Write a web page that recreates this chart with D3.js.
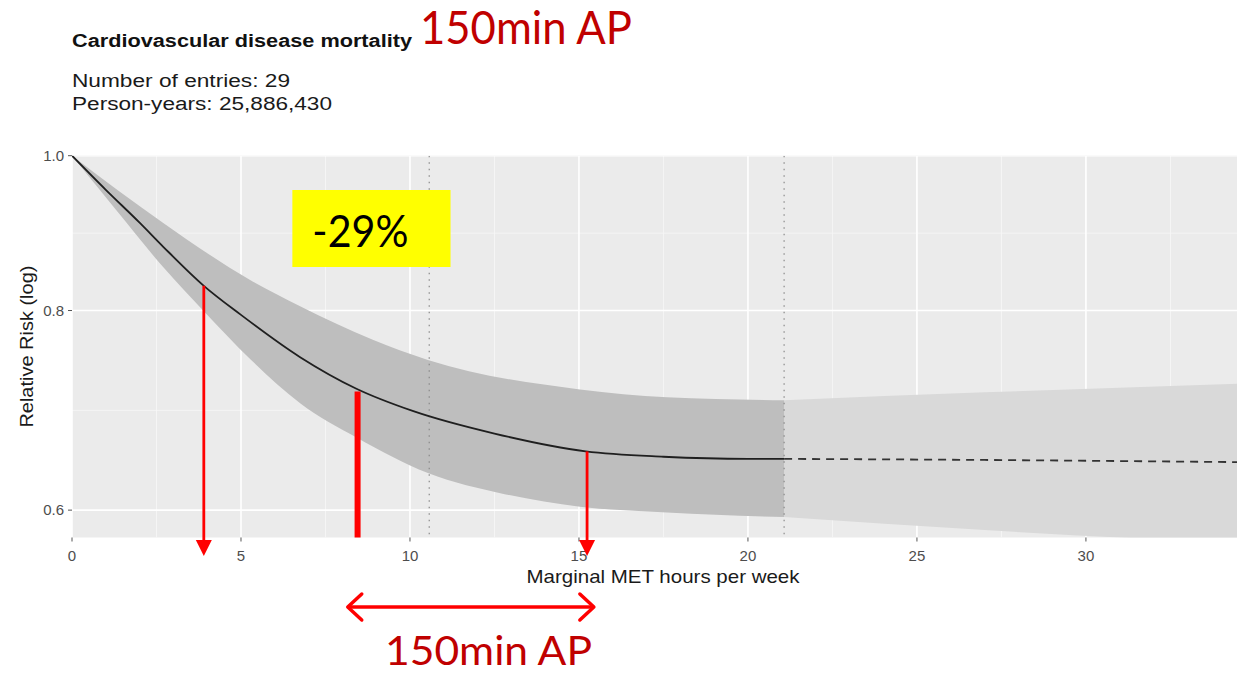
<!DOCTYPE html>
<html>
<head>
<meta charset="utf-8">
<script src="https://cdn.jsdelivr.net/npm/d3@7"></script>
<style>
  body { margin: 0; background: #fff; }
  svg { display: block; }
</style>
</head>
<body>
<svg id="chart" width="1237" height="676"></svg>
<script>
// Dose-response curve: relative risk vs marginal MET hours per week
const metHours = [0, 1, 2, 2.7, 3.9, 5, 6.75, 8.4, 10.1, 12.5, 15.2, 17.5, 20, 21.07];
const relRisk  = [1.0, 0.952, 0.908, 0.877, 0.829, 0.795, 0.748, 0.715, 0.692, 0.670, 0.653, 0.648, 0.646, 0.646];

// 95% confidence band within the data-supported range
const upperHours = [0, 2.69, 5.27, 6.75, 8.9, 10.53, 15.03, 17.6, 21.07];
const upperRisk  = [1.0, 0.908, 0.836, 0.805, 0.767, 0.745, 0.714, 0.706, 0.703];
const lowerHours = [0, 1.3, 2.69, 3.88, 5.3, 6.75, 8.43, 10.53, 12.8, 15.03, 17.6, 21.07];
const lowerRisk  = [1.0, 0.925, 0.852, 0.800, 0.745, 0.700, 0.666, 0.633, 0.614, 0.603, 0.598, 0.594];

// Extrapolated part beyond the last reference point
const extHours = [21.07, 27, 34.5];
const extRisk  = [0.646, 0.645, 0.643];
const extUpper = [0.703, 0.711, 0.720];
const extLower = [0.594, 0.583, 0.572];

// Reference lines (dotted verticals)
const refHours = [10.57, 21.07];

// Axis ticks
const xTicks = [0, 5, 10, 15, 20, 25, 30];
const yTicks = [0.6, 0.8, 1.0];
const yTickLabels = ["0.6", "0.8", "1.0"];

// Annotations: arrows dropped from the curve, and the 150-min range
const arrowHours = [3.9, 15.24];
const arrowRisk  = [0.829, 0.653];
const barHours = 8.45;
const barRisk  = 0.712;
const rangeHours = [8.1, 15.5];

const svg = d3.select("#chart");
const W = 1237;

const x = d3.scaleLinear().domain([0, 34.47]).range([72, 1237]);
const y = d3.scaleLog().domain([1.0, 0.5768]).range([155.7, 537.5]);

const panel = { x0: 72, x1: W, y0: 155.7, y1: 537.5 };

svg.append("defs").append("clipPath").attr("id", "panelClip")
  .append("rect").attr("x", panel.x0).attr("y", panel.y0)
  .attr("width", panel.x1 - panel.x0).attr("height", panel.y1 - panel.y0);

// Panel background
svg.append("rect")
  .attr("x", panel.x0).attr("y", panel.y0)
  .attr("width", panel.x1 - panel.x0).attr("height", panel.y1 - panel.y0)
  .attr("fill", "#ebebeb");

const grid = svg.append("g").attr("clip-path", "url(#panelClip)");

// minor gridlines
const xMinor = d3.range(2.5, 35, 5);
grid.selectAll(".xminor").data(xMinor).join("line")
  .attr("x1", d => x(d)).attr("x2", d => x(d))
  .attr("y1", panel.y0).attr("y2", panel.y1)
  .attr("stroke", "#f7f7f7").attr("stroke-width", 0.8);
const yMinor = [Math.sqrt(0.8 * 1.0), Math.sqrt(0.6 * 0.8)];
grid.selectAll(".yminor").data(yMinor).join("line")
  .attr("x1", panel.x0).attr("x2", panel.x1)
  .attr("y1", d => y(d)).attr("y2", d => y(d))
  .attr("stroke", "#f7f7f7").attr("stroke-width", 0.8);
// major gridlines
grid.selectAll(".xmajor").data(xTicks).join("line")
  .attr("x1", d => x(d)).attr("x2", d => x(d))
  .attr("y1", panel.y0).attr("y2", panel.y1)
  .attr("stroke", "#fff").attr("stroke-width", 1.6);
grid.selectAll(".ymajor").data(yTicks).join("line")
  .attr("x1", panel.x0).attr("x2", panel.x1)
  .attr("y1", d => y(d)).attr("y2", d => y(d))
  .attr("stroke", "#fff").attr("stroke-width", 1.6);

const plot = svg.append("g").attr("clip-path", "url(#panelClip)");

// Band path built from separate upper and lower edges
function bandPath(ux, uy, lx, ly) {
  const ln = d3.line().x(d => x(d[0])).y(d => y(d[1])).curve(d3.curveMonotoneX);
  const up = ln(ux.map((v, i) => [v, uy[i]]));
  const lo = ln(lx.map((v, i) => [v, ly[i]]).reverse());
  return up + "L" + lo.slice(1) + "Z";
}

plot.append("path")
  .attr("d", bandPath(extHours, extUpper, extHours, extLower))
  .attr("fill", "#d9d9d9");
plot.append("path")
  .attr("d", bandPath(upperHours, upperRisk, lowerHours, lowerRisk))
  .attr("fill", "#bebebe");

// Dotted reference lines
plot.selectAll(".ref").data(refHours).join("line")
  .attr("x1", d => x(d)).attr("x2", d => x(d))
  .attr("y1", panel.y0).attr("y2", panel.y1)
  .attr("stroke", "#8a8a8a").attr("stroke-width", 1.2)
  .attr("stroke-dasharray", "1.5,5");

// Curve
const curve = d3.line().x(d => x(d[0])).y(d => y(d[1])).curve(d3.curveMonotoneX);
plot.append("path")
  .attr("d", curve(metHours.map((v, i) => [v, relRisk[i]])))
  .attr("fill", "none").attr("stroke", "#1f1f1f").attr("stroke-width", 1.8);
plot.append("path")
  .attr("d", curve(extHours.map((v, i) => [v, extRisk[i]])))
  .attr("fill", "none").attr("stroke", "#333").attr("stroke-width", 1.8)
  .attr("stroke-dasharray", "8,6");

// Axes
const tickColor = "#4d4d4d";
const xAxis = svg.append("g");
xAxis.selectAll("line").data(xTicks).join("line")
  .attr("x1", d => x(d)).attr("x2", d => x(d))
  .attr("y1", panel.y1).attr("y2", panel.y1 + 4)
  .attr("stroke", "#555").attr("stroke-width", 1);
xAxis.selectAll("text").data(xTicks).join("text")
  .attr("x", d => x(d)).attr("y", 561)
  .attr("text-anchor", "middle")
  .attr("font-family", "Liberation Sans, Arial, sans-serif")
  .attr("font-size", 15).attr("fill", tickColor)
  .text(d => d);

const yAxis = svg.append("g");
yAxis.selectAll("line").data(yTicks).join("line")
  .attr("x1", panel.x0 - 4).attr("x2", panel.x0)
  .attr("y1", d => y(d)).attr("y2", d => y(d))
  .attr("stroke", "#555").attr("stroke-width", 1);
yAxis.selectAll("text").data(yTicks).join("text")
  .attr("x", 64).attr("y", d => y(d) + 5)
  .attr("text-anchor", "end")
  .attr("font-family", "Liberation Sans, Arial, sans-serif")
  .attr("font-size", 15).attr("fill", tickColor)
  .text((d, i) => yTickLabels[i]);

svg.append("text")
  .attr("x", 663).attr("y", 583)
  .attr("text-anchor", "middle")
  .attr("font-family", "Liberation Sans, Arial, sans-serif")
  .attr("font-size", 19).attr("fill", "#1a1a1a")
  .attr("textLength", 273).attr("lengthAdjust", "spacingAndGlyphs")
  .text("Marginal MET hours per week");

svg.append("text")
  .attr("transform", `translate(33, ${(panel.y0 + panel.y1) / 2}) rotate(-90)`)
  .attr("text-anchor", "middle")
  .attr("font-family", "Liberation Sans, Arial, sans-serif")
  .attr("font-size", 19).attr("fill", "#1a1a1a")
  .attr("textLength", 162).attr("lengthAdjust", "spacingAndGlyphs")
  .text("Relative Risk (log)");

// Titles
svg.append("text")
  .attr("x", 72).attr("y", 47)
  .attr("font-family", "Liberation Sans, Arial, sans-serif")
  .attr("font-weight", "bold")
  .attr("font-size", 18).attr("fill", "#111")
  .attr("textLength", 340).attr("lengthAdjust", "spacingAndGlyphs")
  .text("Cardiovascular disease mortality");
svg.append("text")
  .attr("x", 72).attr("y", 87)
  .attr("font-family", "Liberation Sans, Arial, sans-serif")
  .attr("font-size", 18).attr("fill", "#1a1a1a")
  .attr("textLength", 218).attr("lengthAdjust", "spacingAndGlyphs")
  .text("Number of entries: 29");
svg.append("text")
  .attr("x", 72).attr("y", 110)
  .attr("font-family", "Liberation Sans, Arial, sans-serif")
  .attr("font-size", 18).attr("fill", "#1a1a1a")
  .attr("textLength", 260).attr("lengthAdjust", "spacingAndGlyphs")
  .text("Person-years: 25,886,430");

// Red annotation layer
const red = "#ff0000";
const darkRed = "#c00000";
const note = svg.append("g");

note.append("text")
  .attr("x", 420).attr("y", 44)
  .attr("font-family", "Lato, 'Open Sans', sans-serif")
  .attr("font-size", 46).attr("fill", darkRed)
  .attr("textLength", 212).attr("lengthAdjust", "spacingAndGlyphs")
  .text("150min AP");

// Arrows from the curve down to the axis
const arrowTip = 556;
arrowHours.forEach((h, i) => {
  const ax = x(h);
  note.append("line")
    .attr("x1", ax).attr("x2", ax)
    .attr("y1", y(arrowRisk[i])).attr("y2", arrowTip - 14)
    .attr("stroke", red).attr("stroke-width", 2.8);
  note.append("path")
    .attr("d", `M${ax - 8},${arrowTip - 16}L${ax + 8},${arrowTip - 16}L${ax},${arrowTip}Z`)
    .attr("fill", red);
});

// Thick bar at the 150-min dose
note.append("line")
  .attr("x1", x(barHours)).attr("x2", x(barHours))
  .attr("y1", y(barRisk)).attr("y2", panel.y1)
  .attr("stroke", red).attr("stroke-width", 6);

// Reduction label derived from the bar value
const boxX0 = x(6.52), boxX1 = x(11.2);
const boxY0 = 190, boxY1 = 267;
note.append("rect")
  .attr("x", boxX0).attr("y", boxY0)
  .attr("width", boxX1 - boxX0).attr("height", boxY1 - boxY0)
  .attr("fill", "#ffff00");
note.append("text")
  .attr("x", boxX0 + 20).attr("y", 247)
  .attr("font-family", "Lato, 'Open Sans', sans-serif")
  .attr("font-size", 44).attr("fill", "#000")
  .attr("textLength", 96).attr("lengthAdjust", "spacingAndGlyphs")
  .text("-" + Math.round((1 - barRisk) * 100) + "%");

// Double-headed range arrow
const rY = 607;
const rx0 = x(rangeHours[0]), rx1 = x(rangeHours[1]);
note.append("line")
  .attr("x1", rx0 + 2).attr("x2", rx1 - 2).attr("y1", rY).attr("y2", rY)
  .attr("stroke", red).attr("stroke-width", 3.5);
note.append("path")
  .attr("d", `M${rx0 + 16},${rY - 13}L${rx0 + 2},${rY}L${rx0 + 16},${rY + 13}`)
  .attr("fill", "none").attr("stroke", red).attr("stroke-width", 3.5)
  .attr("stroke-linecap", "round").attr("stroke-linejoin", "round");
note.append("path")
  .attr("d", `M${rx1 - 16},${rY - 13}L${rx1 - 2},${rY}L${rx1 - 16},${rY + 13}`)
  .attr("fill", "none").attr("stroke", red).attr("stroke-width", 3.5)
  .attr("stroke-linecap", "round").attr("stroke-linejoin", "round");

note.append("text")
  .attr("x", 385).attr("y", 665)
  .attr("font-family", "Lato, 'Open Sans', sans-serif")
  .attr("font-size", 41).attr("fill", darkRed)
  .attr("textLength", 207).attr("lengthAdjust", "spacingAndGlyphs")
  .text("150min AP");
</script>
</body>
</html>
